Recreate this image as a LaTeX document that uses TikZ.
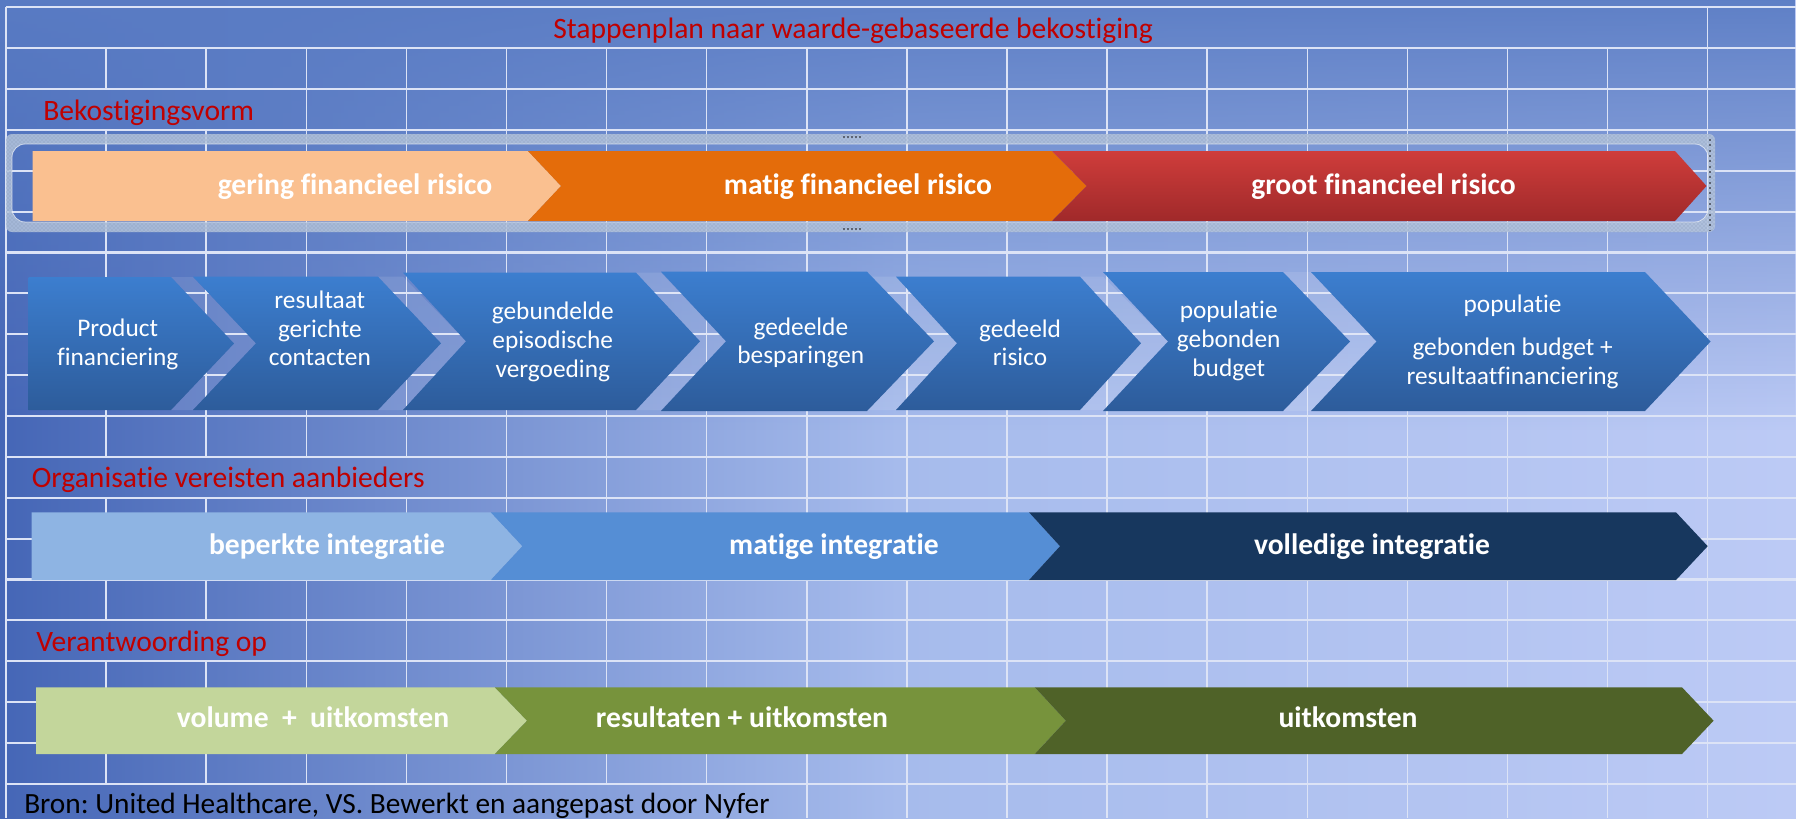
\documentclass[tikz,border=0pt]{standalone}
\usepackage{fontspec}
\setmainfont{Carlito}[Ligatures=NoCommon]
\frenchspacing
\usetikzlibrary{fadings,patterns}
\definecolor{bgL}{HTML}{4566B6}
\definecolor{bgM}{HTML}{A6BBEC}
\definecolor{bgR}{HTML}{BCCAF5}
\definecolor{topblue}{HTML}{5A7CC4}
\definecolor{gridc}{HTML}{DCE3F6}
\definecolor{titlered}{HTML}{C00000}
\definecolor{ringc}{HTML}{B4C4DC}
\definecolor{ringdot}{HTML}{8A9CB8}
\definecolor{handle}{HTML}{5C6474}
\definecolor{peach}{HTML}{FAC090}
\definecolor{orangeA}{HTML}{E46C0A}
\definecolor{redT}{HTML}{CF3D3B}
\definecolor{redB}{HTML}{A0292A}
\definecolor{chevT}{HTML}{3C7ECF}
\definecolor{chevB}{HTML}{2D5C9B}
\definecolor{intA}{HTML}{8EB4E3}
\definecolor{intB}{HTML}{558ED5}
\definecolor{intC}{HTML}{17375E}
\definecolor{grA}{HTML}{C3D69B}
\definecolor{grB}{HTML}{77933C}
\definecolor{grC}{HTML}{4F6228}
\tikzfading[name=topfade, top color=transparent!5, bottom color=transparent!100]
\begin{document}
\begin{tikzpicture}[x=0.75pt,y=-0.75pt,
  hline/.style={draw=gridc, line width=1.6pt},
  vline/.style={draw=gridc, line width=1.15pt},
  lbl/.style={font=\fontsize{22.2pt}{26pt}\selectfont, text=titlered, inner sep=0pt},
  arrtxt/.style={font=\bfseries\fontsize{22.2pt}{26pt}\selectfont, text=white, inner sep=0pt},
  chtxt/.style={font=\fontsize{19pt}{21.5pt}\selectfont, text=white, align=center, inner sep=0pt},
  chev/.style={top color=chevT, bottom color=chevB},
  gapband/.style={fill=white, fill opacity=0.1}]
\useasboundingbox (0,0) rectangle (1796,818);
% background
\shade[left color=bgL, right color=bgR, middle color=bgM] (0,0) rectangle (1796,818);
\fill[topblue, path fading=topfade] (0,0) rectangle (1796,430);
% grid
\foreach \k in {0,...,19} \draw[hline] (6,{7.3+40.87*\k}) -- (1796,{7.3+40.87*\k});
\draw[vline] (6,7.3) -- (6,818);
\draw[vline] (1707.7,7.3) -- (1707.7,818);
\foreach \j in {1,2} {
  \draw[vline] ({6+100.1*\j},48.2) -- ({6+100.1*\j},89.1);
  \draw[vline] ({6+100.1*\j},129.9) -- ({6+100.1*\j},456.9);
  \draw[vline] ({6+100.1*\j},497.7) -- ({6+100.1*\j},620.4);
  \draw[vline] ({6+100.1*\j},661.2) -- ({6+100.1*\j},783.8);}
\foreach \j in {3,4} {
  \draw[vline] ({6+100.1*\j},48.2) -- ({6+100.1*\j},456.9);
  \draw[vline] ({6+100.1*\j},497.7) -- ({6+100.1*\j},783.8);}
\foreach \j in {5,6,7}
  \draw[vline] ({6+100.1*\j},48.2) -- ({6+100.1*\j},783.8);
\foreach \j in {8,...,16}
  \draw[vline] ({6+100.1*\j},48.2) -- ({6+100.1*\j},818);
% labels
\node[lbl, anchor=base] (title) at (853,38.3) {Stappenplan naar waarde-gebaseerde bekostiging};
\node[lbl, anchor=base west] (lblA) at (43,120) {Bekostigingsvorm};
\node[lbl, anchor=base west] (lblB) at (31.6,487.3) {Organisatie vereisten aanbieders};
\node[lbl, anchor=base west] (lblC) at (36,651) {Verantwoording op};
\node[font=\fontsize{22pt}{26pt}\selectfont, text=black, inner sep=0pt, anchor=base west] (bron) at (24,813) {Bron: United Healthcare, VS. Bewerkt en aangepast door Nyfer};
% frame ring
\fill[ringc, fill opacity=0.85, even odd rule] [rounded corners=4.5pt] (6,134) rectangle (1715,232) [rounded corners=10pt] (12,144) rectangle (1708,222);
\fill[pattern=crosshatch dots, pattern color=ringdot, even odd rule] [rounded corners=4.5pt] (6,134) rectangle (1715,232) [rounded corners=10pt] (12,144) rectangle (1708,222);
\draw[white, opacity=0.6, line width=0.6pt, rounded corners=10pt] (12,144) rectangle (1708,222);
% top arrows
\fill[peach] (32.7,151) -- (528,151) -- (561,186) -- (528,221) -- (32.7,221) -- cycle;
\fill[orangeA] (528,151) -- (1052,151) -- (1086.6,186) -- (1052,221) -- (528,221) -- (561,186) -- cycle;
\shade[top color=redT, bottom color=redB] (1052,151) -- (1675,151) -- (1706.5,186) -- (1675,221) -- (1052,221) -- (1086.6,186) -- cycle;
% selection handles
\draw[handle, line width=1.2pt, dash pattern=on 1.5pt off 1.5pt] (843,137) -- (862,137);
\draw[handle, line width=1.2pt, dash pattern=on 1.5pt off 1.5pt] (843,229) -- (862,229);
\draw[handle, line width=1.2pt, dash pattern=on 1.5pt off 2.5pt] (1710,139) -- (1710,230);
\node[arrtxt, anchor=base] (gering) at (355,194.5) {gering financieel risico};
\node[arrtxt, anchor=base] (matig) at (858,194.5) {matig financieel risico};
\node[arrtxt, anchor=base] (groot) at (1383.5,194.5) {groot financieel risico};
% gap bands between chevrons
\fill[gapband] (171,277) -- (234,343.5) -- (171,410) -- (193,410) -- (256,343.3) -- (193,277) -- cycle;
\fill[gapband] (378,276.7) -- (441,343.3) -- (378,410) -- (403,410) -- (466,341.3) -- (403,276.7) -- cycle;
\fill[gapband] (636,272.7) -- (700,341.3) -- (636,410) -- (661,410) -- (726,341.3) -- (661,272.7) -- cycle;
\fill[gapband] (867,276.7) -- (934,341.3) -- (867,410) -- (896,410) -- (957,343.3) -- (896,276.7) -- cycle;
\fill[gapband] (1080,276.7) -- (1141,343.3) -- (1080,410) -- (1103,410) -- (1168,341.5) -- (1103,276.7) -- cycle;
\fill[gapband] (1283,272) -- (1350,341.5) -- (1283,411) -- (1311,411) -- (1376.5,341.5) -- (1311,272) -- cycle;
% chevrons
\shade[chev] (28.7,277) -- (171,277) -- (234,343.5) -- (171,410) -- (28.7,410) -- cycle;
\shade[chev] (193,276.7) -- (378,276.7) -- (441,343.3) -- (378,410) -- (193,410) -- (256,343.3) -- cycle;
\shade[chev] (403,272.7) -- (636,272.7) -- (700,341.3) -- (636,410) -- (403,410) -- (466,341.3) -- cycle;
\shade[chev] (661,271.7) -- (867,271.7) -- (934,341.3) -- (867,411) -- (661,411) -- (726,341.3) -- cycle;
\shade[chev] (896,276.7) -- (1080,276.7) -- (1141,343.3) -- (1080,410) -- (896,410) -- (957,343.3) -- cycle;
\shade[chev] (1103,272) -- (1283,272) -- (1350,341.5) -- (1283,411) -- (1103,411) -- (1168,341.5) -- cycle;
\shade[chev] (1311,272) -- (1645,272) -- (1710.6,341.5) -- (1645,411) -- (1311,411) -- (1376.5,341.5) -- cycle;
\node[chtxt] (c1) at (117.7,344.7) {Product\\financiering};
\node[chtxt] (c2) at (319.8,328.4) {resultaat\\gerichte\\contacten};
\node[chtxt] (c3) at (552.8,342) {gebundelde\\episodische\\vergoeding};
\node[chtxt] (c4) at (800.8,343) {gedeelde\\besparingen};
\node[chtxt] (c5) at (1020,342.7) {gedeeld\\risico};
\node[chtxt] (c6) at (1228.7,341) {populatie\\gebonden\\budget};
\node[chtxt] (c7) at (1512.6,342) {populatie\\[10.5pt]gebonden budget +\\resultaatfinanciering};
% integration row
\fill[intA] (31.6,512.3) -- (490.8,512.3) -- (522.4,546.2) -- (490.8,580) -- (31.6,580) -- cycle;
\fill[intB] (490.8,512.3) -- (1029,512.3) -- (1060,546.2) -- (1029,580) -- (490.8,580) -- (522.4,546.2) -- cycle;
\fill[intC] (1029,512.3) -- (1676,512.3) -- (1707.7,546.2) -- (1676,580) -- (1029,580) -- (1060,546.2) -- cycle;
\node[arrtxt, anchor=base] (beperkte) at (327,554.7) {beperkte integratie};
\node[arrtxt, anchor=base] (matige) at (834,554.7) {matige integratie};
\node[arrtxt, anchor=base] (volledige) at (1372,554.7) {volledige integratie};
% verantwoording row
\fill[grA] (36,687.3) -- (494.8,687.3) -- (527,720.7) -- (494.8,754) -- (36,754) -- cycle;
\fill[grB] (494.8,687.3) -- (1034.8,687.3) -- (1065.8,720.7) -- (1034.8,754) -- (494.8,754) -- (527,720.7) -- cycle;
\fill[grC] (1034.8,687.3) -- (1682,687.3) -- (1713.6,720.7) -- (1682,754) -- (1034.8,754) -- (1065.8,720.7) -- cycle;
\node[arrtxt, anchor=base] (volume) at (313,727.7) {volume\ \ +\ \ uitkomsten};
\node[arrtxt, anchor=base] (resultaten) at (742,727.7) {resultaten + uitkomsten};
\node[arrtxt, anchor=base] (uitkomsten) at (1348,727.7) {uitkomsten};
\end{tikzpicture}
\end{document}
